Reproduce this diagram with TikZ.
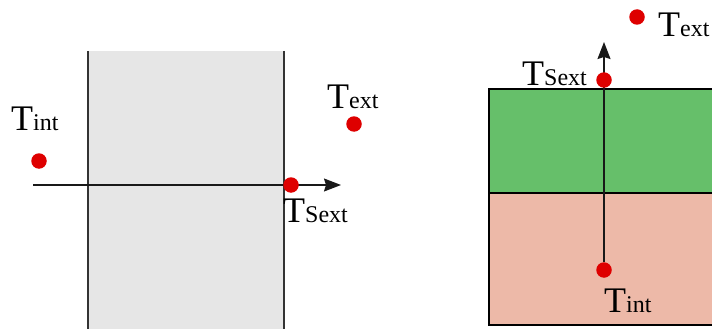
\documentclass[tikz,border=0pt]{standalone}
\usepackage{xcolor}
\usepackage{fontspec}
\setmainfont{Liberation Serif}
\usetikzlibrary{arrows.meta, positioning}

\definecolor{dotred}{HTML}{DE0000}
\definecolor{wallgray}{HTML}{E6E6E6}
\definecolor{layergreen}{HTML}{66BF6A}
\definecolor{layerpink}{HTML}{EDB9A8}
\definecolor{edgegray}{HTML}{333333}

% T with a smaller suffix on the same baseline
\newcommand{\tlab}[1]{{\fontsize{36}{36}\selectfont T\fontsize{24}{24}\selectfont #1}}

\begin{document}
\begin{tikzpicture}[x=1pt,y=-1pt,
    tdot/.style={circle,fill=dotred,inner sep=0pt,minimum size=15.5pt},
    tlabel/.style={inner sep=0pt,anchor=base west},
    flux/.style={line width=1.3pt,draw=black!90,-{Stealth[length=17pt,width=13pt,inset=2pt]}}]
    \useasboundingbox (0,0) rectangle (712,329);

    % Draw the wall (left)
    \fill[wallgray] (88,51) rectangle (284,340);
    \draw[edgegray,line width=1.3pt] (88,51) -- (88,340);
    \draw[edgegray,line width=1.3pt] (284,51) -- (284,340);

    % Draw the two layers (right)
    \fill[layergreen] (489,89) rectangle (720,193);
    \fill[layerpink] (489,193) rectangle (720,325);
    \draw[black,line width=1.5pt] (720,89) -- (489,89) -- (489,325) -- (720,325);
    \draw[black,line width=1.5pt] (489,193) -- (720,193);

    % Left: flux through the wall
    \coordinate (lstart) at (33,185);
    \coordinate (ltip) at (341,185);
    \draw[flux] (lstart) -- (ltip);
    \node[tdot] (ltint) at (39,161) {};
    \node[tdot] (ltext) at (354,124) {};
    \node[tdot] (ltsext) at (291,185) {};
    \node[tlabel] (ltintlab) at (11,130) {\tlab{int}};
    \node[tlabel] (ltextlab) at (327,108) {\tlab{ext}};
    \node[tlabel] (ltsextlab) at (283,222) {\tlab{Sext}};

    % Right: flux up through the layers
    \node[tdot] (rtint) at (604,270) {};
    \coordinate (rtip) at (604,42);
    \draw[flux] (rtint) -- (rtip);
    \node[tdot] (rtsext) at (604,80) {};
    \node[tdot] (rtext) at (637,17) {};
    \node[tlabel] (rtsextlab) at (522,85) {\tlab{Sext}};
    \node[tlabel] (rtextlab) at (658,37) {\tlab{ext}};
    \node[tlabel] (rtintlab) at (604,312) {\tlab{int}};
\end{tikzpicture}
\end{document}
